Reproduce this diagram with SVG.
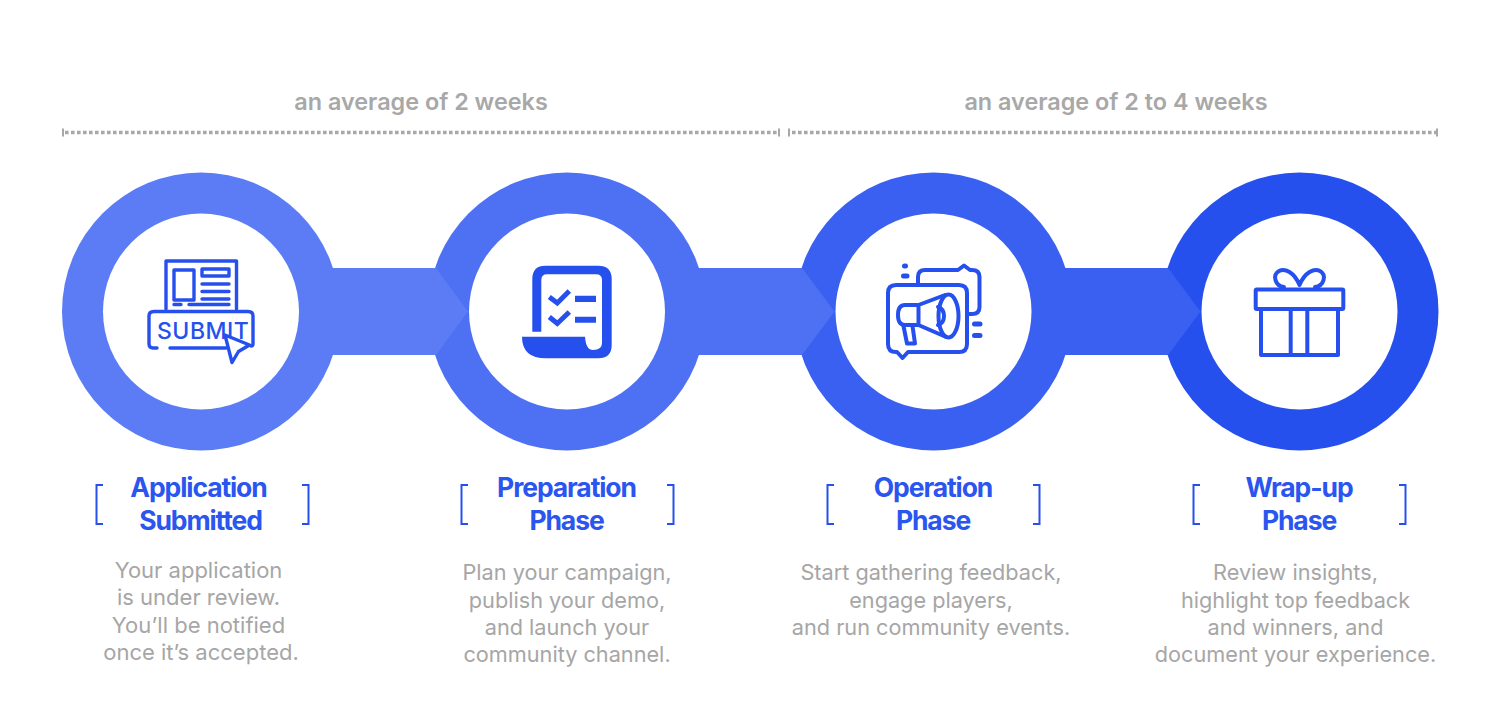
<svg xmlns="http://www.w3.org/2000/svg" width="1500" height="720" viewBox="0 0 1500 720">
<style>
text{font-family:Inter,"Noto Sans",sans-serif}
.dur{font-size:23.4px;font-weight:600;fill:#a8a8a8;text-anchor:middle}
.ttl{font-size:26.5px;font-weight:700;fill:#2b55ef;text-anchor:middle;letter-spacing:-1.1px}
.dsc{font-size:21.7px;font-weight:400;fill:#a6a6a6;text-anchor:middle}
.big{font-size:22px}
.dot{fill:none;stroke:#a8a8a8;stroke-width:3.4;stroke-dasharray:3.6 2.4}
.tick{fill:none;stroke:#a8a8a8;stroke-width:2}
.hole{fill:#fff}
.ic{fill:none;stroke:#2650ee;stroke-width:3.4;stroke-linecap:round;stroke-linejoin:round}
.thick{stroke-width:4}
.icf{fill:#2650ee}
.br{fill:none;stroke:#2650ee;stroke-width:2}
</style>
<g id="durations">
<text class="dur" x="421" y="110">an average of 2 weeks</text>
<text class="dur" x="1116" y="110">an average of 2 to 4 weeks</text>
<path class="dot" d="M65 132.500H777M792 132.500H1436"/>
<path class="tick" d="M63 128.500V136.500M779 128.500V136.500M789 128.500V136.500M1437 128.500V136.500"/>
</g>
<g id="node-application">
<circle cx="201" cy="311.500" r="139" fill="#5b7cf5"/>
<circle class="hole" cx="201" cy="311.500" r="98"/>
<g class="ic">
<path d="M166 309V261H236.500V309"/>
<rect x="174" y="270" width="20" height="30"/>
<rect x="202" y="269" width="27" height="7"/>
<path d="M202 284H229M202 291.500H229M202 299H229M174 304.500H181M189 304.500H229"/>
<path d="M157 348H153Q149 348 149 344V316Q149 311.500 154 311.500H248Q253 311.500 253 316V344Q253 346 251 346M170 348H226"/>
</g>
<text x="157" y="338.500" font-size="23" font-weight="500" fill="#2650ee" letter-spacing=".5">SUBMIT</text>
<path class="ic" style="fill:#fff" d="M225 335L249.500 345L238.500 351.500L232 362.500Z"/>
<text class="ttl" x="198.500" y="497">Application</text>
<text class="ttl" x="200.500" y="530">Submitted</text>
<path class="br" d="M103 485H96.500V524H103M302 485H308.500V524H302"/>
<text class="dsc big" x="198.500" y="578">Your application</text>
<text class="dsc big" x="198.500" y="605">is under review.</text>
<text class="dsc big" x="198.500" y="633">You’ll be notified</text>
<text class="dsc big" x="201" y="660">once it’s accepted.</text>
</g>
<g id="node-preparation">
<circle cx="567" cy="311.500" r="139" fill="#4e70f2"/>
<circle class="hole" cx="567" cy="311.500" r="98"/>
<path class="icf" d="M532.300 331.700V279Q532.300 265.700 545.600 265.700H598Q611.700 265.700 611.700 279V345Q611.700 358.300 598 358.300H546Q522 358.300 522 336.700H585Q586 350 593 350Q602 350 602 343V280Q602 274.300 596 274.300H547Q541.300 274.300 541.300 280V331.700Z"/>
<path fill="none" stroke="#2650ee" stroke-width="5" d="M549.300 297L557.300 303L569.300 291M549.300 317L557.300 323.500L569.300 312"/>
<path class="icf" d="M575 295.700H596V302H575ZM575 316.700H596V322.700H575Z"/>
<text class="ttl" x="566.500" y="497">Preparation</text>
<text class="ttl" x="566.500" y="530">Phase</text>
<path class="br" d="M468 485H461.500V524H468M667 485H673.500V524H667"/>
<text class="dsc" x="567" y="580">Plan your campaign,</text>
<text class="dsc" x="567" y="608">publish your demo,</text>
<text class="dsc" x="567" y="635">and launch your</text>
<text class="dsc" x="567" y="662">community channel.</text>
</g>
<g id="node-operation">
<circle cx="933.500" cy="311.500" r="139" fill="#3a60f2"/>
<circle class="hole" cx="933.500" cy="311.500" r="98"/>
<g class="ic thick">
<path d="M918 284V277Q918 270 925 270H958L964 265.500L970 270H972Q979.500 270 979.500 277V307Q979.500 314 972 314H968"/>
<path d="M896 285H959Q967 285 967 293V344Q967 352 959 352H908L902.500 358L897 352H896Q888 352 888 344V293Q888 285 896 285Z"/>
<path d="M903.500 276H907M904.500 266H905.500M974.500 324H980M974.500 335.500H980" stroke-width="5"/>
<ellipse cx="948.500" cy="316" rx="10" ry="21.500"/>
<path d="M945 295L918.500 305V325L945 336.500M918.500 305H905Q898 305 898 315Q898 325 905 325H918.500"/>
<path d="M903.500 326L907 343.500H915L912.500 326"/>
<path d="M938 307Q944 309 944 316Q944 323 938 325"/>
</g>
<text class="ttl" x="933" y="497">Operation</text>
<text class="ttl" x="933" y="530">Phase</text>
<path class="br" d="M834 485H827.500V524H834M1033 485H1039.500V524H1033"/>
<text class="dsc" x="931" y="580">Start gathering feedback,</text>
<text class="dsc" x="931" y="608">engage players,</text>
<text class="dsc" x="931" y="635">and run community events.</text>
</g>
<g id="node-wrapup">
<circle cx="1299.500" cy="311.500" r="139" fill="#2650ee"/>
<circle class="hole" cx="1299.500" cy="311.500" r="98"/>
<g class="ic thick">
<rect x="1255.700" y="289.500" width="87.600" height="19.500" rx="1"/>
<path d="M1261 309V355H1338V309M1290.700 309V355M1307.300 309V355"/>
<path d="M1299.500 285C1294 272 1285 268 1279 271C1272 275 1275 286 1284 287M1299.500 285C1305 272 1314 268 1320 271C1327 275 1324 286 1315 287"/>
</g>
<text class="ttl" x="1299" y="497">Wrap-up</text>
<text class="ttl" x="1299" y="530">Phase</text>
<path class="br" d="M1200 485H1193.500V524H1200M1399 485H1405.500V524H1399"/>
<text class="dsc" x="1295.500" y="580">Review insights,</text>
<text class="dsc" x="1295.500" y="608">highlight top feedback</text>
<text class="dsc" x="1295.500" y="635">and winners, and</text>
<text class="dsc" x="1295.500" y="662">document your experience.</text>
</g>
<g id="connectors">
<path fill="#5b7cf5" d="M330 268H436L468 311.500L436 355H330Z"/>
<path fill="#4e70f2" d="M696 268H802L834.500 311.500L802 355H696Z"/>
<path fill="#3a60f2" d="M1062 268H1168L1200.500 311.500L1168 355H1062Z"/>
</g>
</svg>
